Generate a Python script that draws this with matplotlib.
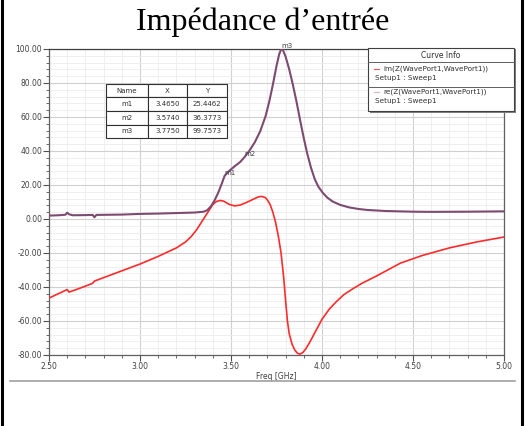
import matplotlib
matplotlib.use("Agg")
import matplotlib.pyplot as plt
from matplotlib.ticker import MultipleLocator, FormatStrFormatter
from matplotlib.patches import Rectangle
from matplotlib.lines import Line2D

# ---- data ----
freq_im = [2.50, 2.55, 2.60, 2.61, 2.65, 2.70, 2.74, 2.75, 2.80, 2.90, 3.00, 3.10,
           3.20, 3.25, 3.28, 3.31, 3.34, 3.37, 3.40, 3.42, 3.44, 3.46, 3.49, 3.52,
           3.55, 3.58, 3.62, 3.65, 3.67, 3.69, 3.70, 3.715, 3.73, 3.745, 3.76, 3.775,
           3.79, 3.80, 3.81, 3.82, 3.835, 3.85, 3.865, 3.88, 3.895, 3.91, 3.93, 3.96,
           4.00, 4.04, 4.08, 4.12, 4.17, 4.22, 4.30, 4.43, 4.55, 4.70, 4.85, 5.00]
im_z = [-46.5, -44.0, -41.5, -43.0, -41.5, -39.5, -37.8, -36.5, -34.5, -30.5, -26.5, -22.0,
        -17.0, -13.5, -10.5, -6.5, -1.5, 3.5, 8.5, 10.3, 10.9, 10.5, 8.6, 7.7,
        8.2, 9.5, 11.5, 13.0, 13.3, 12.5, 11.2, 8.5, 4.0, -2.0, -10.0, -20.0,
        -35.0, -48.0, -60.0, -67.5, -73.5, -77.0, -79.0, -79.5, -78.5, -76.5, -73.0, -67.0,
        -59.0, -53.0, -48.5, -44.5, -41.0, -37.8, -33.5, -26.0, -21.5, -17.0, -13.5, -10.6]

freq_re = [2.50, 2.55, 2.59, 2.60, 2.61, 2.63, 2.70, 2.74, 2.75, 2.76, 2.90, 3.00,
           3.10, 3.20, 3.30, 3.35, 3.37, 3.39, 3.41, 3.43, 3.45, 3.465, 3.49, 3.52,
           3.55, 3.574, 3.60, 3.63, 3.66, 3.69, 3.71, 3.73, 3.75, 3.765, 3.775, 3.785,
           3.80, 3.82, 3.84, 3.86, 3.88, 3.90, 3.92, 3.94, 3.96, 3.98, 4.005, 4.03,
           4.06, 4.10, 4.15, 4.20, 4.25, 4.35, 4.50, 4.60, 4.80, 5.00]
re_z = [2.0, 2.2, 2.5, 3.7, 2.8, 2.2, 2.3, 2.4, 1.0, 2.4, 2.6, 3.0,
        3.2, 3.5, 3.8, 4.3, 5.2, 7.5, 11.0, 15.5, 21.0, 25.45, 28.3, 31.0,
        33.5, 36.38, 40.0, 45.0, 51.5, 60.5, 69.0, 79.0, 90.0, 97.0, 99.76, 99.5,
        95.5, 88.0, 79.0, 69.0, 58.0, 47.5, 38.0, 30.0, 23.5, 19.0, 15.3, 12.5,
        10.2, 8.3, 6.8, 5.9, 5.3, 4.7, 4.3, 4.2, 4.3, 4.5]

marker_names = ["m1", "m2", "m3"]
marker_x = [3.4650, 3.5740, 3.7750]
marker_y = [25.4462, 36.3773, 99.7573]

title = "Impédance d\u2019entrée"
legend_labels = ["im(Z(WavePort1,WavePort1))", "re(Z(WavePort1,WavePort1))"]
setup_label = "Setup1 : Sweep1"

W, H = 525, 426
fig = plt.figure(figsize=(W / 100, H / 100), dpi=100)

def fx(px):
    return px / W

def fy(py):
    return 1 - py / H

# axes
ax_l, ax_r, ax_t, ax_b = 49, 504, 49, 355
ax = fig.add_axes([fx(ax_l), fy(ax_b), (ax_r - ax_l) / W, (ax_b - ax_t) / H])
ax.set_xlim(2.5, 5.0)
ax.set_ylim(-80, 100)

ax.xaxis.set_major_locator(MultipleLocator(0.5))
ax.xaxis.set_minor_locator(MultipleLocator(0.1))
ax.yaxis.set_major_locator(MultipleLocator(20))
ax.yaxis.set_minor_locator(MultipleLocator(4))
ax.xaxis.set_major_formatter(FormatStrFormatter("%.2f"))
ax.yaxis.set_major_formatter(FormatStrFormatter("%.2f"))

ax.grid(which="minor", color="#ececec", lw=0.6)
ax.grid(which="major", color="#d0d0d0", lw=0.8)
ax.set_axisbelow(True)

for s in ax.spines.values():
    s.set_color("#606060")
    s.set_linewidth(0.9)
ax.spines["top"].set_color("#404040")

ax.tick_params(which="major", direction="out", length=4, width=0.8, color="#505050",
               labelsize=5.5, labelcolor="#404040", pad=1)
ax.tick_params(which="minor", direction="out", length=2.5, width=0.6, color="#505050")

ax.set_xlabel("Freq [GHz]", fontsize=5.5, color="#404040", labelpad=1)

ax.plot(freq_im, im_z, color="#ff2a2a", lw=1.2, zorder=3)
ax.plot(freq_re, re_z, color="#7d4a70", lw=1.5, zorder=4)

for n, x, y in zip(marker_names, marker_x, marker_y):
    ax.text(x, y, n, fontsize=5, color="#404040", ha="left", va="bottom", zorder=5)

# marker table
tbl = ax.table(cellText=[[n, "%.4f" % x, "%.4f" % y] for n, x, y in zip(marker_names, marker_x, marker_y)],
               colLabels=["Name", "X", "Y"],
               cellLoc="center",
               bbox=[(106 - ax_l) / (ax_r - ax_l), (ax_b - 138) / (ax_b - ax_t),
                     121 / (ax_r - ax_l), 54 / (ax_b - ax_t)],
               colWidths=[42, 39, 40])
tbl.auto_set_font_size(False)
tbl.set_fontsize(5)
for c in tbl.get_celld().values():
    c.set_edgecolor("#303030")
    c.set_linewidth(0.8)
    c.get_text().set_color("#303030")
tbl.set_zorder(6)

# curve info box
bx0, bx1, by0, by1 = 368, 514, 48, 111
fig.patches.append(Rectangle((fx(bx0 + 1.5), fy(by1 + 1.5)), (bx1 - bx0) / W, (by1 - by0) / H,
                             transform=fig.transFigure, facecolor="#808080", edgecolor="none", zorder=7))
fig.patches.append(Rectangle((fx(bx0), fy(by1)), (bx1 - bx0) / W, (by1 - by0) / H,
                             transform=fig.transFigure, facecolor="white", edgecolor="#404040",
                             lw=0.8, zorder=8))
for yy in (62, 87):
    fig.lines.append(Line2D([fx(bx0), fx(bx1)], [fy(yy), fy(yy)], transform=fig.transFigure,
                            color="#606060", lw=0.7, zorder=9))
fig.text(fx((bx0 + bx1) / 2), fy(55), "Curve Info", fontsize=5.5, color="#303030",
         ha="center", va="center", zorder=10)
for i, (lab, col) in enumerate(zip(legend_labels, ["#ff5050", "#e0b0c0"])):
    yb = 69 + 23 * i
    fig.lines.append(Line2D([fx(374), fx(379)], [fy(yb), fy(yb)], transform=fig.transFigure,
                            color=col, lw=0.8, zorder=10))
    fig.text(fx(383), fy(yb), lab, fontsize=5.2, color="#303030", ha="left", va="center", zorder=10)
    fig.text(fx(375), fy(yb + 9), setup_label, fontsize=5.2, color="#303030", ha="left",
             va="center", zorder=10)

# title
fig.text(0.5, fy(22), title, fontsize=23, family="Liberation Serif", color="black",
         ha="center", va="center")

# separator and borders
fig.lines.append(Line2D([fx(10), fx(515)], [fy(381), fy(381)], transform=fig.transFigure,
                        color="#a0a0a0", lw=1.2))
fig.lines.append(Line2D([fx(1.5), fx(1.5)], [0, 1], transform=fig.transFigure, color="black", lw=2.2))
fig.lines.append(Line2D([fx(522), fx(522)], [0, 1], transform=fig.transFigure, color="black", lw=2.2))

fig.savefig("out.png", dpi=100)
